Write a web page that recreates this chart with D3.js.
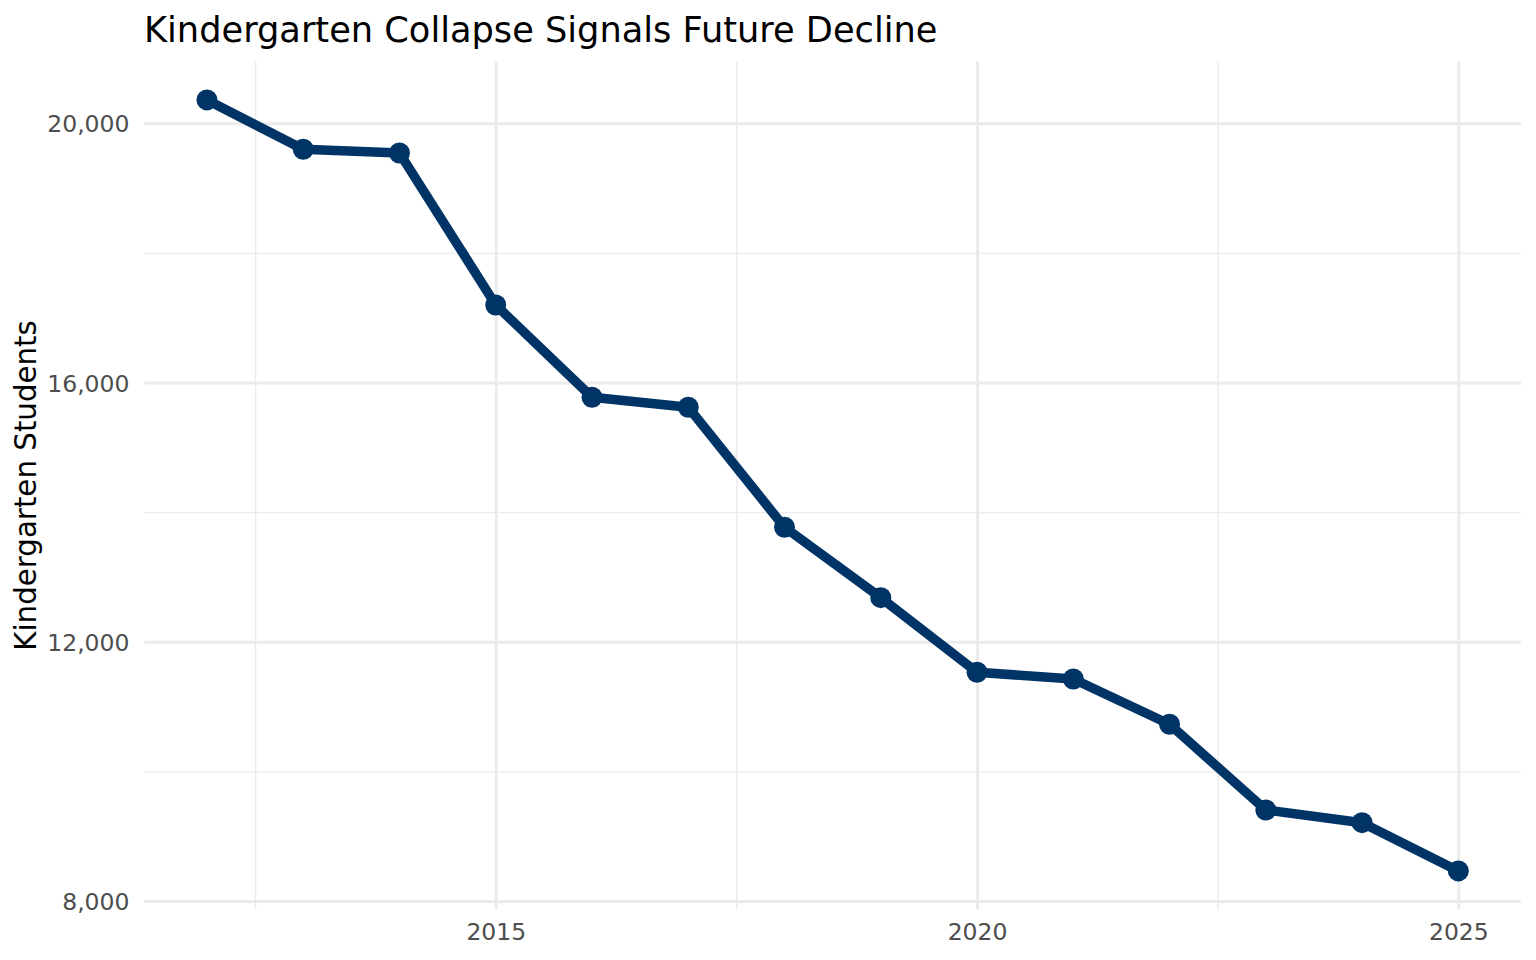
<!DOCTYPE html>
<html>
<head>
<meta charset="utf-8">
<script src="https://cdn.jsdelivr.net/npm/d3@7"></script>
<style>
  html, body { margin: 0; padding: 0; background: #ffffff; }
  svg { display: block; }
  text { font-family: "DejaVu Sans", sans-serif; }
</style>
</head>
<body>
<svg id="chart" width="1536" height="960"></svg>
<script>
// ---- data ----
const years = [2012, 2013, 2014, 2015, 2016, 2017, 2018, 2019, 2020, 2021, 2022, 2023, 2024, 2025];
const students = [20360, 19599, 19542, 17196, 15772, 15618, 13766, 12680, 11529, 11425, 10726, 9404, 9208, 8463];
const yMajorTicks = [8000, 12000, 16000, 20000];
const yMinorTicks = [10000, 14000, 18000];
const xMajorTicks = [2015, 2020, 2025];
const xMinorTicks = [2012.5, 2017.5, 2022.5];
const titleText = "Kindergarten Collapse Signals Future Decline";
const yTitleText = "Kindergarten Students";

// ---- layout ----
const W = 1536, H = 960;
const panel = { left: 144.4, right: 1520.9, top: 61.4, bottom: 909.5 };
const lineColor = "#003366";
const gridColor = "#EBEBEB";
const tickColor = "#4D4D4D";

const svg = d3.select("#chart");
svg.append("rect").attr("width", W).attr("height", H).attr("fill", "#ffffff");

function expand(ext, f) {
  const d = (ext[1] - ext[0]) * f;
  return [ext[0] - d, ext[1] + d];
}

const x = d3.scaleLinear()
  .domain(expand(d3.extent(years), 0.05))
  .range([panel.left, panel.right]);
const y = d3.scaleLinear()
  .domain(expand(d3.extent(students), 0.05))
  .range([panel.bottom, panel.top]);

const pw = panel.right - panel.left;
const ph = panel.bottom - panel.top;

// minor gridlines
svg.append("g")
  .attr("transform", `translate(${panel.left},0)`)
  .call(d3.axisLeft(y).tickValues(yMinorTicks).tickSize(-pw).tickFormat(""))
  .call(g => g.select(".domain").remove())
  .call(g => g.selectAll("line").attr("stroke", gridColor).attr("stroke-width", 1.42));
svg.append("g")
  .attr("transform", `translate(0,${panel.bottom})`)
  .call(d3.axisBottom(x).tickValues(xMinorTicks).tickSize(-ph).tickFormat(""))
  .call(g => g.select(".domain").remove())
  .call(g => g.selectAll("line").attr("stroke", gridColor).attr("stroke-width", 1.42));

// major gridlines
svg.append("g")
  .attr("transform", `translate(${panel.left},0)`)
  .call(d3.axisLeft(y).tickValues(yMajorTicks).tickSize(-pw).tickFormat(""))
  .call(g => g.select(".domain").remove())
  .call(g => g.selectAll("line").attr("stroke", gridColor).attr("stroke-width", 2.84));
svg.append("g")
  .attr("transform", `translate(0,${panel.bottom})`)
  .call(d3.axisBottom(x).tickValues(xMajorTicks).tickSize(-ph).tickFormat(""))
  .call(g => g.select(".domain").remove())
  .call(g => g.selectAll("line").attr("stroke", gridColor).attr("stroke-width", 2.84));

// y tick labels
svg.append("g")
  .attr("transform", `translate(${panel.left},0)`)
  .call(d3.axisLeft(y).tickValues(yMajorTicks).tickSize(0).tickPadding(15).tickFormat(d3.format(",")))
  .call(g => g.select(".domain").remove())
  .call(g => g.selectAll("text")
    .attr("fill", tickColor)
    .attr("font-size", "23.47px")
    .attr("font-family", "DejaVu Sans, sans-serif")
    .attr("dy", null)
    .attr("y", 8.6));

// x tick labels
svg.append("g")
  .attr("transform", `translate(0,${panel.bottom})`)
  .call(d3.axisBottom(x).tickValues(xMajorTicks).tickSize(0).tickFormat(d3.format("d")))
  .call(g => g.select(".domain").remove())
  .call(g => g.selectAll("text")
    .attr("fill", tickColor)
    .attr("font-size", "23.47px")
    .attr("font-family", "DejaVu Sans, sans-serif")
    .attr("dy", null)
    .attr("y", 940 - panel.bottom));

// line
const line = d3.line()
  .x((d, i) => x(years[i]))
  .y(d => y(d));
svg.append("path")
  .datum(students)
  .attr("d", line)
  .attr("fill", "none")
  .attr("stroke", lineColor)
  .attr("stroke-width", 9.5)
  .attr("stroke-linejoin", "round")
  .attr("stroke-linecap", "butt");

// points
svg.append("g")
  .selectAll("circle")
  .data(students)
  .join("circle")
  .attr("cx", (d, i) => x(years[i]))
  .attr("cy", d => y(d))
  .attr("r", 10.5)
  .attr("fill", lineColor);

// title
svg.append("text")
  .attr("x", 144)
  .attr("y", 41.7)
  .attr("font-size", "35.2px")
  .attr("fill", "#000000")
  .text(titleText);

// y axis title
svg.append("text")
  .attr("transform", `translate(35.5,${(panel.top + panel.bottom) / 2}) rotate(-90)`)
  .attr("text-anchor", "middle")
  .attr("font-size", "29.3px")
  .attr("fill", "#000000")
  .text(yTitleText);
</script>
</body>
</html>
